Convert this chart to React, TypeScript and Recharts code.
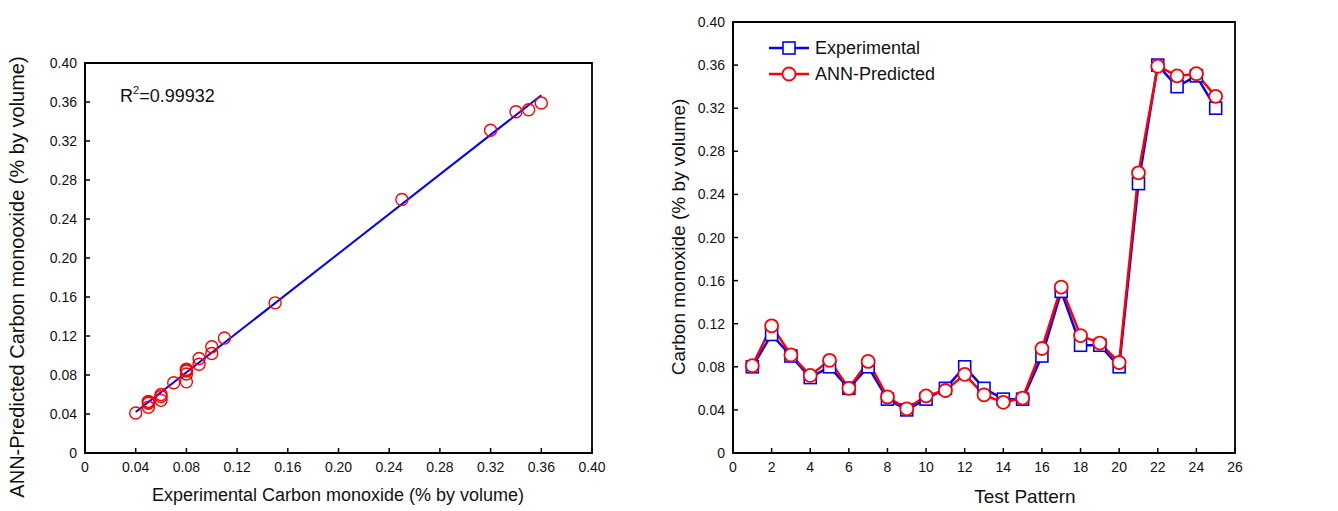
import React from 'react';
import {
  ScatterChart,
  Scatter,
  LineChart,
  Line,
  XAxis,
  YAxis,
  ReferenceLine,
  ReferenceArea,
  Legend,
  Customized,
} from 'recharts';

// ---------- data ----------
const patterns = [1, 2, 3, 4, 5, 6, 7, 8, 9, 10, 11, 12, 13, 14, 15, 16, 17, 18, 19, 20, 21, 22, 23, 24, 25];
const experimental = [0.08, 0.11, 0.09, 0.07, 0.08, 0.06, 0.08, 0.05, 0.04, 0.05, 0.06, 0.08, 0.06, 0.05, 0.05, 0.09, 0.15, 0.1, 0.1, 0.08, 0.25, 0.36, 0.34, 0.35, 0.32];
const annPredicted = [0.081, 0.118, 0.091, 0.072, 0.086, 0.06, 0.085, 0.052, 0.041, 0.053, 0.058, 0.073, 0.054, 0.047, 0.051, 0.097, 0.154, 0.109, 0.102, 0.084, 0.26, 0.359, 0.35, 0.352, 0.331];
const coTicks = [0, 0.04, 0.08, 0.12, 0.16, 0.2, 0.24, 0.28, 0.32, 0.36, 0.4];
const patternTicks = [0, 2, 4, 6, 8, 10, 12, 14, 16, 18, 20, 22, 24, 26];
const fitLine = [
  { x: 0.04, y: 0.042 },
  { x: 0.36, y: 0.367 },
];
const r2Value = '0.99932';
const seriesNames = ['Experimental', 'ANN-Predicted'];

const scatterData = experimental.map((x, i) => ({ x, y: annPredicted[i] }));
const lineData = patterns.map((p, i) => ({ pattern: p, exp: experimental[i], ann: annPredicted[i] }));

// ---------- styles ----------
const FONT = '"Liberation Sans", Arial, Helvetica, sans-serif';
const INK = '#111';
const BLUE = '#0000ff';
const RED = '#ff0000';
const FRAME_W = 1.8;

const fmtCo = (v: number) => (v === 0 ? '0' : v.toFixed(2));
const fmtInt = (v: number) => String(v);

const makeXTick = (fmt: (v: number) => string) => (props: any) => {
  const { x, y, payload } = props;
  return (
    <g>
      <line x1={x} x2={x} y1={y} y2={y - 5} stroke="#000" strokeWidth={1.5} />
      <text x={x} y={y + 19} textAnchor="middle" fontSize={14} fontFamily={FONT} fill={INK}>
        {fmt(payload.value)}
      </text>
    </g>
  );
};

const makeYTick = (fmt: (v: number) => string) => (props: any) => {
  const { x, y, payload } = props;
  return (
    <g>
      <line x1={x} x2={x + 5} y1={y} y2={y} stroke="#000" strokeWidth={1.5} />
      <text x={x - 8} y={y + 5} textAnchor="end" fontSize={14} fontFamily={FONT} fill={INK}>
        {fmt(payload.value)}
      </text>
    </g>
  );
};

const HollowCircle = (props: any) => {
  const { cx, cy } = props;
  return <circle cx={cx} cy={cy} r={6} fill="none" stroke={RED} strokeWidth={1.4} />;
};

const SquareDot = (props: any) => {
  const { cx, cy, index } = props;
  if (cx == null || cy == null) return <g key={index} />;
  return <rect key={index} x={cx - 6} y={cy - 6} width={12} height={12} fill="#fff" stroke={BLUE} strokeWidth={1.6} />;
};

const LegendContent = () => (
  <svg width={220} height={56}>
    <g>
      <line x1={0} x2={40} y1={14} y2={14} stroke={BLUE} strokeWidth={2.5} />
      <rect x={14} y={8} width={12} height={12} fill="#fff" stroke={BLUE} strokeWidth={1.6} />
      <text x={46} y={20} fontSize={18} fontFamily={FONT} fill={INK}>{seriesNames[0]}</text>
    </g>
    <g>
      <line x1={0} x2={40} y1={40} y2={40} stroke={RED} strokeWidth={2.5} />
      <circle cx={20} cy={40} r={6.5} fill="#fff" stroke={RED} strokeWidth={1.8} />
      <text x={46} y={46} fontSize={18} fontFamily={FONT} fill={INK}>{seriesNames[1]}</text>
    </g>
  </svg>
);

export default function App() {
  return (
    <div style={{ position: 'absolute', left: 0, top: 0, width: 1338, height: 511, background: '#fff', fontFamily: FONT }}>
      {/* Left: parity scatter */}
      <div style={{ position: 'absolute', left: 0, top: 0 }}>
        <ScatterChart width={650} height={511} margin={{ top: 63, right: 58, bottom: 0, left: 0 }}>
          <XAxis
            type="number"
            dataKey="x"
            domain={[0, 0.4]}
            ticks={coTicks}
            interval={0}
            height={58}
            tickSize={0}
            tickMargin={0}
            tick={makeXTick(fmtCo)}
            axisLine={{ stroke: '#000', strokeWidth: FRAME_W }}
            allowDataOverflow
          />
          <YAxis
            type="number"
            dataKey="y"
            domain={[0, 0.4]}
            ticks={coTicks}
            interval={0}
            width={85}
            tickSize={0}
            tickMargin={0}
            tick={makeYTick(fmtCo)}
            axisLine={{ stroke: '#000', strokeWidth: FRAME_W }}
            allowDataOverflow
          />
          <ReferenceArea x1={0} x2={0.4} y1={0} y2={0.4} fill="none" stroke="#000" strokeWidth={FRAME_W} ifOverflow="visible" />
          <ReferenceLine segment={fitLine} stroke={BLUE} strokeWidth={2} ifOverflow="visible" />
          <Scatter data={scatterData} shape={HollowCircle} isAnimationActive={false} />
          <Customized
            component={() => (
              <g fontFamily={FONT} fill={INK}>
                <text x={120} y={102} fontSize={18}>
                  R<tspan dy={-8} fontSize={11}>2</tspan>
                  <tspan dy={8}>={r2Value}</tspan>
                </text>
                <text x={338} y={501} fontSize={18} textAnchor="middle">
                  Experimental Carbon monoxide (% by volume)
                </text>
                <text x={0} y={0} fontSize={20} textAnchor="middle" transform="translate(24,277) rotate(-90)">
                  ANN-Predicted Carbon monooxide (% by volume)
                </text>
              </g>
            )}
          />
        </ScatterChart>
      </div>

      {/* Right: series comparison */}
      <div style={{ position: 'absolute', left: 650, top: 0 }}>
        <LineChart width={688} height={511} data={lineData} margin={{ top: 22, right: 103, bottom: 0, left: 0 }}>
          <XAxis
            type="number"
            dataKey="pattern"
            domain={[0, 26]}
            ticks={patternTicks}
            interval={0}
            height={58}
            tickSize={0}
            tickMargin={0}
            tick={makeXTick(fmtInt)}
            axisLine={{ stroke: '#000', strokeWidth: FRAME_W }}
          />
          <YAxis
            type="number"
            domain={[0, 0.4]}
            ticks={coTicks}
            interval={0}
            width={83}
            tickSize={0}
            tickMargin={0}
            tick={makeYTick(fmtCo)}
            axisLine={{ stroke: '#000', strokeWidth: FRAME_W }}
          />
          <ReferenceArea x1={0} x2={26} y1={0} y2={0.4} fill="none" stroke="#000" strokeWidth={FRAME_W} ifOverflow="visible" />
          <Line
            type="linear"
            dataKey="exp"
            name={seriesNames[0]}
            stroke={BLUE}
            strokeWidth={2.5}
            dot={SquareDot}
            isAnimationActive={false}
          />
          <Line
            type="linear"
            dataKey="ann"
            name={seriesNames[1]}
            stroke={RED}
            strokeWidth={2.5}
            dot={{ r: 6.5, fill: '#fff', stroke: RED, strokeWidth: 1.8 }}
            isAnimationActive={false}
          />
          <Legend
            layout="vertical"
            align="center"
            verticalAlign="middle"
            content={LegendContent}
            wrapperStyle={{ position: 'absolute', left: 119, top: 34, width: 220, height: 56 }}
          />
          <Customized
            component={() => (
              <g fontFamily={FONT} fill={INK}>
                <text x={375} y={503} fontSize={19} textAnchor="middle">
                  Test Pattern
                </text>
                <text x={0} y={0} fontSize={19} textAnchor="middle" transform="translate(35,237) rotate(-90)">
                  Carbon monoxide (% by volume)
                </text>
              </g>
            )}
          />
        </LineChart>
      </div>
    </div>
  );
}
